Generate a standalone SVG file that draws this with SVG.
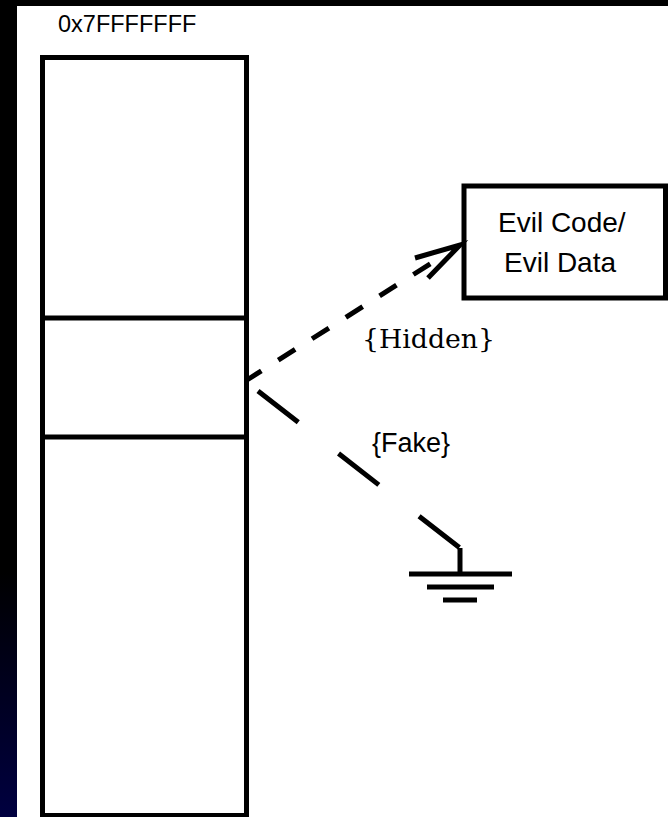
<svg xmlns="http://www.w3.org/2000/svg" width="668" height="817" viewBox="0 0 668 817">
  <defs>
    <linearGradient id="edgeFade" x1="0" y1="0" x2="0" y2="1">
      <stop offset="0" stop-color="#000000"/>
      <stop offset="0.7" stop-color="#000000"/>
      <stop offset="1" stop-color="#000040"/>
    </linearGradient>
    <style>
      .frame { fill: #ffffff; stroke: #000000; stroke-width: 5; }
      .rule { fill: none; stroke: #000000; stroke-width: 5; }
      .link { fill: none; stroke: #000000; stroke-width: 5; }
      .sans { font-family: "Liberation Sans", Arial, sans-serif; fill: #000000; }
      .serif { font-family: "DejaVu Serif", "Liberation Serif", serif; fill: #000000; }
    </style>
  </defs>

  <!-- page background with dark border strips -->
  <rect x="0" y="0" width="668" height="817" fill="#ffffff"/>
  <rect x="0" y="0" width="668" height="6" fill="#000000"/>
  <rect x="0" y="0" width="17" height="817" fill="url(#edgeFade)"/>

  <!-- address space column -->
  <g id="memory">
    <text class="sans" x="58" y="32" font-size="23.5">0x7FFFFFFF</text>
    <rect class="frame" x="42.5" y="57.5" width="204" height="758"/>
    <line class="rule" x1="42.5" y1="318" x2="246.5" y2="318"/>
    <line class="rule" x1="42.5" y1="437" x2="246.5" y2="437"/>
  </g>

  <!-- target block -->
  <g id="evil">
    <rect class="frame" x="464" y="186" width="201.5" height="112"/>
    <text class="sans" x="498" y="232" font-size="28">Evil Code/</text>
    <text class="sans" x="504" y="272" font-size="28">Evil Data</text>
  </g>

  <!-- ground symbol -->
  <g id="ground">
    <line class="rule" x1="460" y1="548" x2="460" y2="574"/>
    <line class="rule" x1="409" y1="574" x2="512" y2="574"/>
    <line class="rule" x1="427" y1="587" x2="494" y2="587"/>
    <line class="rule" x1="443" y1="600" x2="477" y2="600"/>
  </g>

  <!-- connectors -->
  <g id="connectors">
    <line class="link" x1="247" y1="380" x2="437" y2="259.5" stroke-dasharray="20 20" stroke-dashoffset="3"/>
    <polyline class="link" points="415,258 460,245 428,278"/>
    <text class="serif" x="362" y="348" font-size="26" textLength="133" lengthAdjust="spacingAndGlyphs">{Hidden}</text>

    <line class="link" x1="258" y1="391" x2="460" y2="548" stroke-dasharray="51 51"/>
    <text class="sans" x="372" y="452" font-size="27">{Fake}</text>
  </g>
</svg>
